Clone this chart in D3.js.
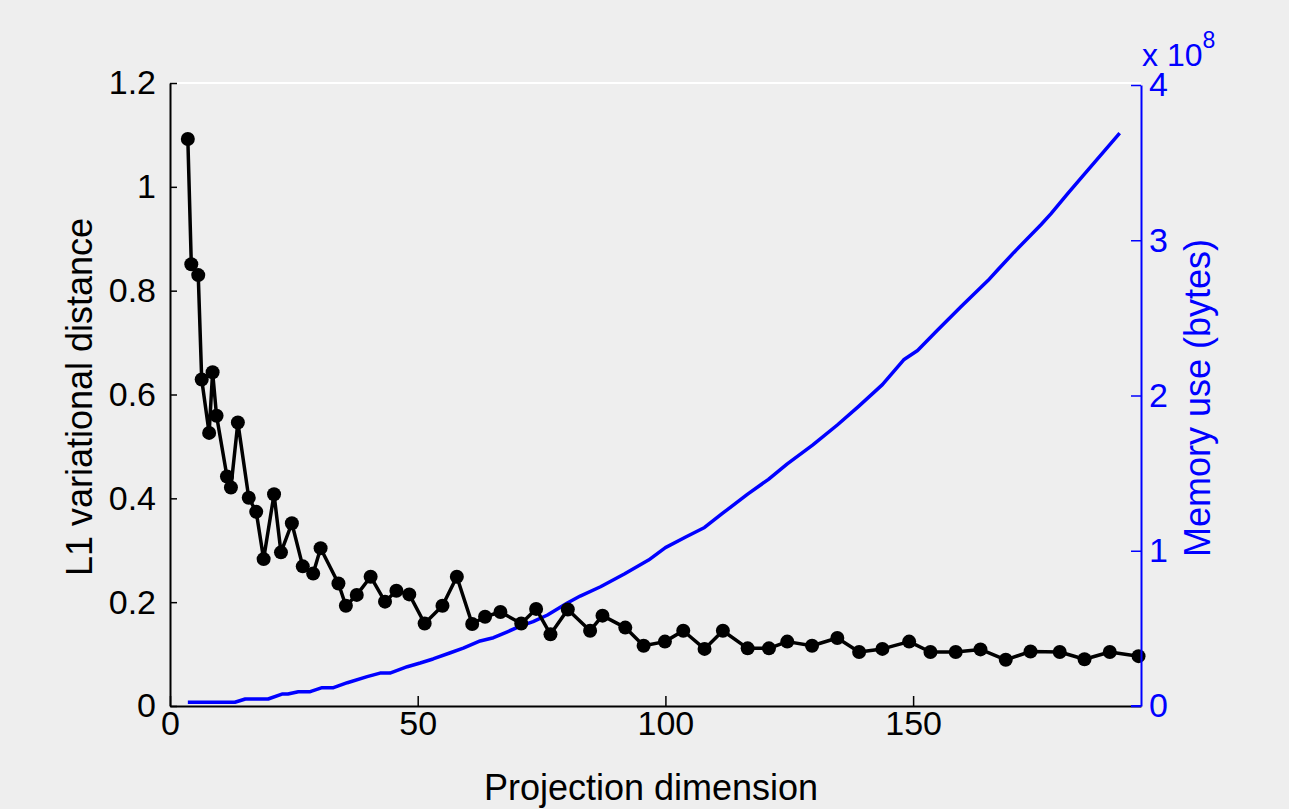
<!DOCTYPE html>
<html>
<head>
<meta charset="utf-8">
<script src="https://cdn.jsdelivr.net/npm/d3@7"></script>
<style>
  html, body { margin: 0; padding: 0; background: #eeeeee; }
  svg { display: block; }
  text { font-family: "Liberation Sans", Arial, Helvetica, sans-serif; }
</style>
</head>
<body>
<svg id="chart" width="1289" height="809"></svg>
<script>
// ---- Data ----
// L1 variational distance vs projection dimension
const distDims = [3.6, 4.3, 5.7, 6.4, 7.9, 8.6, 9.4, 11.5, 12.3, 13.7, 15.9, 17.4, 18.9, 21, 22.4, 24.6, 26.8, 28.9, 30.4, 34,
  35.5, 37.7, 40.5, 43.4, 45.7, 48.3, 51.4, 55, 57.9, 61, 63.6, 66.7, 70.9, 73.9, 76.8, 80.3, 84.8, 87.3, 91.9, 95.6,
  99.9, 103.6, 107.9, 111.6, 116.6, 120.9, 124.6, 129.6, 134.7, 139.1, 143.8, 149.2, 153.5, 158.6, 163.6, 168.7, 173.7, 179.6, 184.6, 189.7, 195.5];
const distValues = [1.092, 0.851, 0.830, 0.629, 0.526, 0.643, 0.559, 0.442, 0.421, 0.546, 0.401, 0.374, 0.283, 0.408, 0.296, 0.352, 0.269, 0.255, 0.304, 0.236,
  0.193, 0.214, 0.249, 0.201, 0.222, 0.215, 0.159, 0.193, 0.249, 0.158, 0.172, 0.181, 0.159, 0.187, 0.138, 0.186, 0.145, 0.174, 0.151, 0.116,
  0.124, 0.145, 0.110, 0.145, 0.111, 0.111, 0.124, 0.116, 0.131, 0.104, 0.110, 0.124, 0.104, 0.104, 0.109, 0.089, 0.105, 0.104, 0.090, 0.104, 0.096];

// Memory use (x 10^8 bytes) vs projection dimension
const memDims = [3.6, 13.1, 15.2, 19.8, 22.6, 23.8, 25.9, 28.3, 30.7, 33.0, 35.8, 39.8, 42.4, 44.4, 47.9, 50.5, 53.1, 56.6, 59.2, 62.6,
  65.3, 68.1, 70.7, 73.3, 76.2, 80.2, 82.8, 86.9, 91.7, 96.6, 100, 104.2, 107.9, 111.5, 116.6, 120.8, 124.6, 129.7, 134.7, 139,
  143.8, 148.1, 150.9, 154.9, 159.6, 165.1, 167.1, 170.3, 175.8, 177.8, 181.2, 184.4, 191.7];
const memValues = [0.024, 0.024, 0.045, 0.045, 0.077, 0.077, 0.092, 0.092, 0.118, 0.118, 0.150, 0.189, 0.212, 0.212, 0.253, 0.277, 0.303, 0.343, 0.373, 0.419,
  0.440, 0.478, 0.515, 0.543, 0.586, 0.663, 0.708, 0.768, 0.85, 0.94, 1.02, 1.09, 1.15, 1.24, 1.365, 1.46, 1.56, 1.68, 1.81, 1.93,
  2.07, 2.23, 2.29, 2.42, 2.57, 2.74, 2.81, 2.92, 3.10, 3.17, 3.30, 3.42, 3.69];

const xTicks = [0, 50, 100, 150];
const yLeftTicks = [0, 0.2, 0.4, 0.6, 0.8, 1, 1.2];
const yRightTicks = [0, 1, 2, 3, 4];

const xLabel = "Projection dimension";
const yLeftLabel = "L1 variational distance";
const yRightLabel = "Memory use (bytes)";

// ---- Layout ----
const L = 170, R = 1141, T = 83, B = 706;
const BLUE = "#0000ff";

const svg = d3.select("#chart");
svg.append("rect").attr("width", 1289).attr("height", 809).attr("fill", "#eeeeee");

const x = d3.scaleLinear().domain([0, 196]).range([L, R]);
const yL = d3.scaleLinear().domain([0, 1.2]).range([B, T]);
const yR = d3.scaleLinear().domain([0, 4]).range([B, 85]);

// top white box edge
svg.append("line").attr("x1", L).attr("x2", R).attr("y1", T).attr("y2", T)
  .attr("stroke", "#ffffff").attr("stroke-width", 2);

// memory line (blue)
const memData = memDims.map((d, i) => [d, memValues[i]]);
svg.append("path").datum(memData)
  .attr("fill", "none").attr("stroke", BLUE).attr("stroke-width", 3.5).attr("stroke-linejoin", "round")
  .attr("d", d3.line().x(d => x(d[0])).y(d => yR(d[1])));

// distance line (black) with markers
const distData = distDims.map((d, i) => [d, distValues[i]]);
svg.append("path").datum(distData)
  .attr("fill", "none").attr("stroke", "#000").attr("stroke-width", 3.5).attr("stroke-linejoin", "round")
  .attr("d", d3.line().x(d => x(d[0])).y(d => yL(d[1])));
svg.append("g").selectAll("circle").data(distData).join("circle")
  .attr("cx", d => x(d[0])).attr("cy", d => yL(d[1])).attr("r", 7).attr("fill", "#000");

// axes
const fontSize = 34;
const fam = '"Liberation Sans", Arial, sans-serif';
const gx = svg.append("g").attr("transform", `translate(0,${B})`)
  .call(d3.axisBottom(x).tickValues(xTicks).tickSizeInner(-10).tickSizeOuter(0).tickPadding(3).tickFormat(d3.format("d")));
const gyl = svg.append("g").attr("transform", `translate(${L},0)`)
  .call(d3.axisLeft(yL).tickValues(yLeftTicks).tickSizeInner(-7).tickSizeOuter(0).tickPadding(14)
    .tickFormat(d => String(+d.toFixed(1))));
const gyr = svg.append("g").attr("transform", `translate(${R},0)`)
  .call(d3.axisRight(yR).tickValues(yRightTicks).tickSizeInner(-10).tickSizeOuter(0).tickPadding(8).tickFormat(d3.format("d")));

[gx, gyl].forEach(g => {
  g.select(".domain").attr("stroke", "#000").attr("stroke-width", 2);
  g.selectAll(".tick line").attr("stroke", "#000").attr("stroke-width", 1.5);
  g.selectAll(".tick text").attr("fill", "#000").style("font-size", fontSize + "px").style("font-family", fam);
});
gx.selectAll(".tick text").attr("dy", "0.75em");
gyr.select(".domain").attr("stroke", BLUE).attr("stroke-width", 2);
gyr.selectAll(".tick line").attr("stroke", BLUE).attr("stroke-width", 1.5);
gyr.selectAll(".tick text").attr("fill", BLUE).style("font-size", fontSize + "px").style("font-family", fam);

// small blue bottom corner of right axes box
svg.append("line").attr("x1", R - 10).attr("x2", R).attr("y1", B).attr("y2", B)
  .attr("stroke", BLUE).attr("stroke-width", 2);

// axis labels
svg.append("text").attr("x", 651).attr("y", 800).attr("text-anchor", "middle")
  .style("font-size", "36px").attr("fill", "#000").text(xLabel);
svg.append("text").attr("transform", `translate(92,397) rotate(-90)`).attr("text-anchor", "middle")
  .style("font-size", "36px").attr("fill", "#000").text(yLeftLabel);
svg.append("text").attr("transform", `translate(1210,398) rotate(-90)`).attr("text-anchor", "middle")
  .style("font-size", "36px").attr("fill", BLUE).text(yRightLabel);

// exponent label
const exp = svg.append("text").attr("x", 1142).attr("y", 66).style("font-size", "32px").attr("fill", BLUE);
exp.append("tspan").text("x 10");
exp.append("tspan").attr("dy", -18).style("font-size", "23px").text("8");
</script>
</body>
</html>
